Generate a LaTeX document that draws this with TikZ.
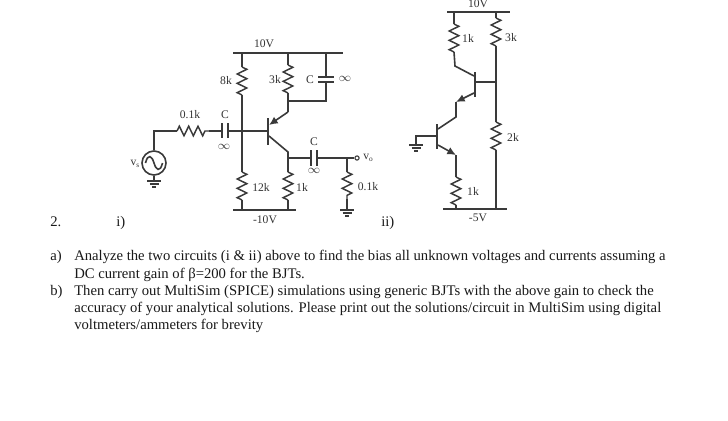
\documentclass[tikz,border=0pt]{standalone}
\usepackage{fontspec}
\setmainfont{Liberation Serif}
\usetikzlibrary{decorations.pathmorphing,arrows.meta}
\definecolor{wirecol}{HTML}{3A3A3A}
\tikzset{
  x=0.75pt,y=-0.75pt,
  wire/.style={draw=wirecol,line width=1.2pt,line join=miter},
  rail/.style={draw=wirecol,line width=1.25pt},
  plate/.style={draw=wirecol,line width=1.25pt},
  res/.style={wire,line width=1.1pt,decorate,decoration={zigzag,segment length=7pt,amplitude=3.6pt,pre length=0pt,post length=0pt}},
  emit/.style={wire,-{Latex[length=6.5pt,width=6pt]}},
  lab/.style={font=\fontsize{8.7pt}{10pt}\selectfont,text=black!80,inner sep=0pt},
  body/.style={font=\fontsize{11pt}{13pt}\selectfont,anchor=base west,inner sep=0pt,text=black!90},
  gnd/.pic={\draw[wire] (-7,0)--(7,0) (-4.5,3)--(4.5,3) (-2,6)--(2,6);}
}
\begin{document}
\begin{tikzpicture}
\useasboundingbox (0,0) rectangle (728,421);
\fill[white] (0,0) rectangle (728,421);
% ---- circuit i coordinates
\coordinate (tl) at (233,53); \coordinate (tr) at (343,53);
\coordinate (t8) at (242,53); \coordinate (t3) at (288,53); \coordinate (tc) at (326,53);
\coordinate (r8a) at (242,67); \coordinate (r8b) at (242,95);
\coordinate (r3a) at (288,65); \coordinate (r3b) at (288,93);
\coordinate (j3) at (288,101); \coordinate (jc) at (326,101);
\coordinate (ca1) at (326,77); \coordinate (ca2) at (326,82);
\coordinate (eA) at (288,112); \coordinate (eB) at (269,125);
\coordinate (bj) at (242,131); \coordinate (bb) at (268,131);
\coordinate (cA) at (269,136); \coordinate (cB) at (288,152); \coordinate (cJ) at (288,158);
\coordinate (r12a) at (242,172); \coordinate (r12b) at (242,200); \coordinate (b12) at (242,210);
\coordinate (r1a) at (288,172); \coordinate (r1b) at (288,200); \coordinate (b1) at (288,210);
\coordinate (bl) at (233,210); \coordinate (br) at (296,210);
\coordinate (ci1) at (222,131); \coordinate (ci2) at (228,131);
\coordinate (ri1) at (177,131); \coordinate (ri2) at (209,131);
\coordinate (sc) at (154,131);
\coordinate (co1) at (311,158); \coordinate (co2) at (317,158);
\coordinate (oj) at (347,158);
\coordinate (rla) at (347,172); \coordinate (rlb) at (347,199);
\coordinate (gl) at (347,210);
\coordinate (gs) at (154,181);
\node[circle,draw=wirecol,line width=1.2pt,minimum size=18pt,inner sep=0pt] (src) at (154,163) {};
\node[circle,draw=wirecol,line width=0.8pt,fill=white,minimum size=3.2pt,inner sep=0pt] (vout) at (357,158) {};
% rails
\draw[rail] (tl)--(tr); \draw[rail] (bl)--(br);
% wires
\draw[wire] (t8)--(r8a); \draw[res] (r8a)--(r8b);
\draw[wire] (r8b)--(r12a); \draw[res] (r12a)--(r12b); \draw[wire] (r12b)--(b12);
\draw[wire] (t3)--(r3a); \draw[res] (r3a)--(r3b); \draw[wire] (r3b)--(eA);
\draw[wire] (j3)--(jc)--(ca2); \draw[wire] (tc)--(ca1);
\draw[plate] (318,77)--(334,77) (318,82)--(334,82);
\draw[emit] (eA)--(eB);
\draw[wire] (cA)--(cB)--(r1a); \draw[res] (r1a)--(r1b); \draw[wire] (r1b)--(b1);
\draw[wire,line width=1.4pt] (268,118)--(268,145);
\draw[wire] (ci2)--(bb);
\draw[plate] (222,123)--(222,138) (228,123)--(228,138);
\draw[wire] (ri2)--(ci1);
\draw[res] (ri1)--(ri2);
\draw[wire] (ri1)--(sc)--(src.north);
\draw[wire] (src.south)--(gs); \pic at (gs) {gnd};
\draw[wire] (145.5,163) .. controls (148,153) and (152,156) .. (154,163) .. controls (156,170) and (160,173) .. (162.5,163);
\draw[wire] (cJ)--(co1); \draw[plate] (311,150)--(311,166) (317,150)--(317,166);
\draw[wire] (co2)--(vout.west);
\draw[wire] (oj)--(rla); \draw[res] (rla)--(rlb); \draw[wire] (rlb)--(gl); \pic at (gl) {gnd};
% labels i
\node[lab] (l1) at (264,44) {10V};
\node[lab] (l2) at (226,81) {8k};
\node[lab] (l3) at (275,80) {3k};
\node[lab] (l4) at (310,80) {C};
\node[lab] (l5) at (345,79) {$\infty$};
\node[lab] (l6) at (190,115) {0.1k};
\node[lab] (l7) at (225,115) {C};
\node[lab] (l8) at (224,147) {$\infty$};
\node[lab] (l9) at (314,142) {C};
\node[lab] (l10) at (314,171) {$\infty$};
\node[lab] (l11) at (135,164) {v\raisebox{-1.5pt}{\fontsize{5.5pt}{5.5pt}\selectfont s}};
\node[lab] (l12) at (368,158) {v\raisebox{-1.5pt}{\fontsize{5.5pt}{5.5pt}\selectfont o}};
\node[lab] (l13) at (261,187) {12k};
\node[lab] (l14) at (302,187) {1k};
\node[lab] (l15) at (368,187) {0.1k};
\node[lab] (l16) at (265,220) {-10V};
% ---- circuit ii
\coordinate (Ttl) at (447,12); \coordinate (Ttr) at (510,12);
\coordinate (T1) at (454,12); \coordinate (T3) at (496,12);
\coordinate (Ra1) at (454,24); \coordinate (Ra2) at (454,52); \coordinate (Ka) at (455,66);
\coordinate (Kb) at (474,76);
\coordinate (Rb1) at (496,18); \coordinate (Rb2) at (496,46);
\coordinate (Jb) at (496,82); \coordinate (Bu) at (475,82);
\coordinate (Rc1) at (496,122); \coordinate (Rc2) at (496,150); \coordinate (Bc) at (496,209);
\coordinate (Eu) at (474,93); \coordinate (Eua) at (456,102); \coordinate (Eub) at (456,117); \coordinate (Cl) at (438,129);
\coordinate (Bl) at (437,136); \coordinate (Gk) at (416,136); \coordinate (Gn) at (416,145);
\coordinate (El) at (438,145); \coordinate (Ela) at (456,155);
\coordinate (Rd1) at (456,177); \coordinate (Rd2) at (456,205); \coordinate (Bd) at (456,209);
\coordinate (Bbl) at (443,209); \coordinate (Bbr) at (507,209);
\draw[rail] (Ttl)--(Ttr); \draw[rail] (Bbl)--(Bbr);
\draw[wire] (T1)--(Ra1); \draw[res] (Ra1)--(Ra2); \draw[wire] (Ra2)--(Ka)--(Kb);
\draw[wire] (T3)--(Rb1); \draw[res] (Rb1)--(Rb2); \draw[wire] (Rb2)--(Rc1);
\draw[res] (Rc1)--(Rc2); \draw[wire] (Rc2)--(Bc);
\draw[wire] (Bu)--(Jb);
\draw[wire,line width=1.4pt] (475,72)--(475,97);
\draw[emit] (Eu)--(Eua);
\draw[wire] (Eua)--(Eub)--(Cl);
\draw[wire,line width=1.4pt] (437,124)--(437,149);
\draw[wire] (Bl)--(Gk)--(Gn); \pic at (Gn) {gnd};
\draw[emit] (El)--(Ela);
\draw[wire] (Ela)--(Rd1); \draw[res] (Rd1)--(Rd2); \draw[wire] (Rd2)--(Bd);
\node[lab] (m1) at (478,4) {10V};
\node[lab] (m2) at (468,38) {1k};
\node[lab] (m3) at (511,38) {3k};
\node[lab] (m4) at (513,137) {2k};
\node[lab] (m5) at (473,191) {1k};
\node[lab] (m6) at (478,218) {-5V};
% ---- text
\node[body] (t2) at (50,226) {2.};
\node[body] (ti) at (116,226) {i)};
\node[body] (tii) at (381,226) {ii)};
\node[body] (ta) at (50,260.5) {a)};
\node[body] (ta1) at (74,260.5) {Analyze the two circuits (i \& ii) above to find the bias all unknown voltages and currents assuming a};
\node[body] (ta2) at (74,278) {DC current gain of β=200 for the BJTs.};
\node[body] (tb) at (50,295.5) {b)};
\node[body] (tb1) at (74,295.5) {Then carry out MultiSim (SPICE) simulations using generic BJTs with the above gain to check the};
\node[body] (tb2) at (74,312) {accuracy of your analytical solutions. Please print out the solutions/circuit in MultiSim using digital};
\node[body] (tb3) at (74,329) {voltmeters/ammeters for brevity};
\end{tikzpicture}
\end{document}
